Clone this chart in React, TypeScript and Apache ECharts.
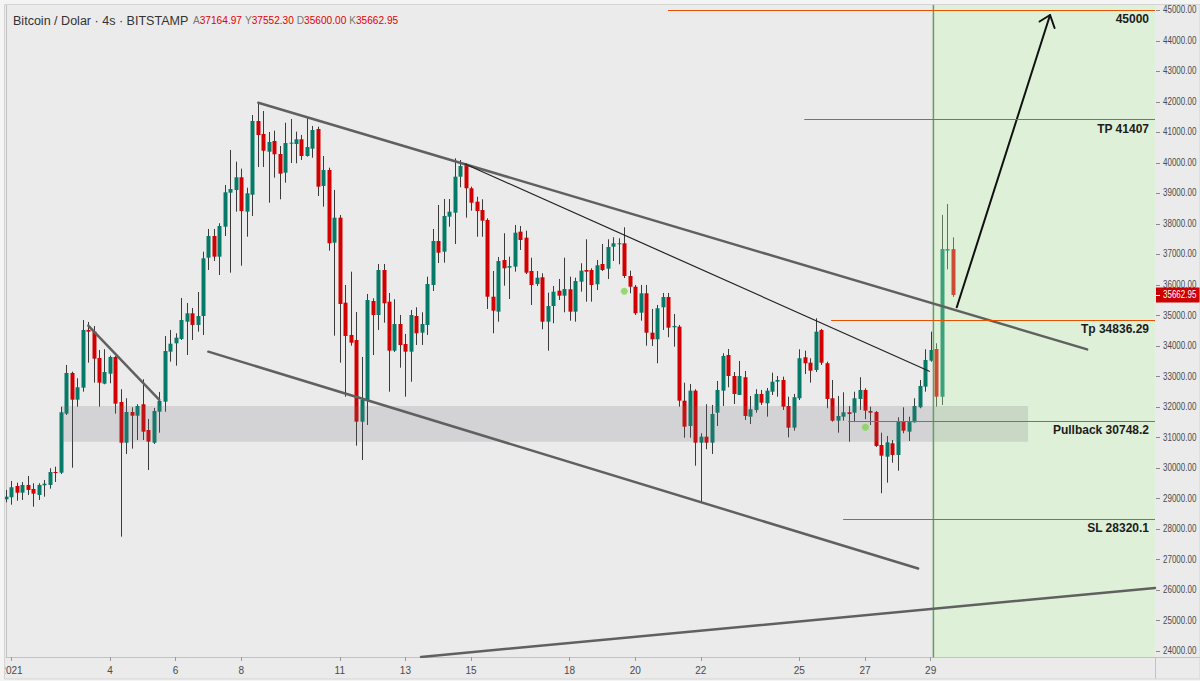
import React, { useEffect, useRef } from "react";
import * as echarts from "echarts";

// ---------- DATA ----------
const opens = [
  28968, 29034, 29404, 29184, 29437, 29306, 29109, 29427, 29437, 29862,
  29839, 31773, 33107, 32232, 32625, 34516, 34460, 33598, 32756, 33084,
  33631, 32156, 30823, 31828, 31707, 32081, 31239, 30823, 31838, 32166,
  33804, 34079, 34221, 34787, 35062, 34680, 34974, 36884, 37595, 36917,
  37900, 39014, 39103, 39519, 38392, 38948, 41363, 40938, 40357, 40708,
  40282, 39670, 40619, 40610, 40764, 40217, 40456, 41101, 39234, 39758,
  37376, 38195, 35410, 34352, 34188, 31511, 32222, 35466, 35007, 36481,
  35443, 33837, 34712, 34057, 33804, 34974, 34427, 34680, 35990, 37432,
  37081, 38228, 38359, 39539, 39922, 39158, 38719, 38447, 38120, 35606,
  35115, 36809, 36557, 36590, 37737, 37540, 36448, 36023, 36242, 34787,
  35302, 35803, 35639, 35849, 35115, 36098, 36481, 36481, 36013, 36678,
  36524, 37245, 37324, 37356, 36285, 35934, 35082, 35718, 34427, 34211,
  35259, 35597, 34604, 34625, 32199, 31370, 32527, 30823, 31019, 30823,
  31806, 32527, 33696, 33008, 32386, 32966, 31675, 31894, 32419, 32114,
  32494, 32822, 32877, 32025, 31314, 32278, 33621, 33444, 33205, 34516,
  33425, 32278, 31544, 31675, 31819, 31806, 32255, 32550, 31861, 31828,
  30747, 30364, 30803, 30420, 31511, 31183, 31491, 31983, 32658, 33510,
  33893, 32330, 37114, 37164.97,
];
const closes = [
  29053, 29362, 29184, 29437, 29273, 29152, 29437, 29480, 29862, 29830,
  31819, 33107, 32232, 32638, 34516, 34460, 33576, 32789, 33139, 33631,
  32101, 30823, 31828, 31707, 32025, 31183, 30855, 31861, 32189, 33827,
  34066, 34264, 34843, 35062, 34680, 34974, 36864, 37595, 36917, 37923,
  39027, 39135, 39519, 38414, 38994, 41363, 40905, 40390, 40675, 40272,
  39637, 40642, 40652, 40764, 40217, 40511, 41069, 39211, 39758, 37356,
  38195, 35367, 34319, 34099, 31511, 32222, 35498, 35007, 36481, 35390,
  33837, 34712, 34024, 33804, 35007, 34407, 34712, 36023, 37432, 37048,
  38251, 38392, 39539, 39889, 39158, 38686, 38414, 38097, 35606, 35148,
  36776, 36537, 36612, 37704, 37464, 36393, 35990, 36229, 34787, 35302,
  35771, 35639, 35859, 35115, 36121, 36458, 36426, 35990, 36635, 36481,
  37235, 37356, 37356, 36285, 35934, 35062, 35718, 34427, 34211, 35226,
  35597, 34591, 34647, 32199, 31347, 32527, 30823, 31019, 30823, 31763,
  32550, 33664, 33008, 32419, 33008, 31698, 31917, 32419, 32133, 32527,
  32822, 32877, 32002, 31314, 32311, 33589, 33425, 33182, 34460, 33444,
  32255, 31544, 31698, 31819, 31763, 32278, 32550, 31871, 31806, 30715,
  30397, 30836, 30420, 31511, 31216, 31511, 32025, 32681, 33533, 33860,
  32330, 37170, 37170, 35662.95,
];
const highs = [
  29273, 29568, 29512, 29535, 29732, 29493, 29492, 29601, 29984, 30036,
  32002, 33369, 33149, 32933, 34843, 34777, 34647, 33860, 33883, 33673,
  33660, 32573, 32278, 31983, 32081, 32900, 31600, 31960, 32484, 34319,
  34516, 34407, 35564, 35400, 35236, 35760, 37080, 37825, 37825, 38012,
  39267, 40413, 40030, 39801, 39178, 41560, 41966, 41691, 41003, 41046,
  40544, 41307, 41429, 41013, 40905, 41472, 41200, 41177, 40217, 39834,
  39103, 38284, 35990, 36426, 35105, 33631, 35695, 35554, 36678, 36678,
  35728, 35521, 35007, 34385, 35171, 35259, 35095, 36262, 37825, 38611,
  38808, 38808, 40140, 40085, 39977, 39211, 38883, 38798, 38175, 36448,
  36907, 37684, 36917, 37956, 37923, 37769, 36884, 36448, 36373, 35738,
  35957, 36186, 36884, 36262, 36229, 36701, 37487, 36537, 36809, 37333,
  37487, 37553, 37520, 37881, 36458, 35990, 35990, 35990, 35204, 35335,
  35728, 35728, 35040, 34680, 32789, 32746, 32573, 31131, 32081, 32058,
  32845, 33752, 33893, 33139, 33500, 33172, 32353, 32573, 32550, 32615,
  33117, 33008, 32986, 32330, 32419, 33883, 33837, 33589, 34899, 34549,
  33477, 32877, 32353, 32475, 32025, 32494, 32966, 32605, 32002, 31861,
  31150, 31042, 30911, 31655, 31983, 31675, 32278, 32877, 33883, 34460,
  34080, 38284, 38644, 37552.3,
];
const lows = [
  28870, 28791, 28922, 28945, 29109, 28725, 28945, 29053, 29316, 29535,
  29797, 31730, 30003, 32002, 32494, 33444, 32789, 32002, 32736, 32769,
  31773, 27743, 30453, 30627, 30911, 30911, 29928, 30780, 31150, 31838,
  33477, 33346, 34188, 33696, 34188, 34460, 34352, 36481, 36776, 36317,
  37595, 36393, 38392, 36622, 37572, 38251, 39856, 39856, 38686, 39506,
  38798, 39342, 39987, 39977, 40085, 40194, 40161, 38906, 38556, 37114,
  34329, 33444, 32330, 34001, 30725, 30256, 31403, 33696, 34516, 34754,
  32494, 33794, 33280, 32330, 32821, 34024, 34024, 34352, 35793, 36711,
  36721, 37900, 37333, 39191, 38195, 38424, 37572, 37572, 35204, 34407,
  34787, 35967, 35531, 36426, 37137, 36350, 35334, 35957, 34538, 33837,
  34735, 35498, 35095, 34820, 34787, 35771, 35443, 35443, 35826, 36448,
  36186, 36776, 36668, 36219, 35718, 35007, 34820, 34001, 33991, 33424,
  34516, 34277, 33969, 32002, 30986, 30986, 30069, 28880, 30607, 30453,
  31370, 32025, 32638, 32091, 32386, 31567, 31436, 31806, 32058, 31675,
  32386, 32330, 31894, 30999, 31216, 32222, 33074, 32789, 33139, 33369,
  31950, 31511, 31150, 31544, 30855, 31511, 31894, 31590, 31403, 30682,
  29165, 29512, 30167, 29905, 31131, 30878, 31478, 31950, 32494, 33477,
  32002, 32058, 36504, 35600,
];

// 4-hour slots starting 31 Dec 2020 20:00 (candles + empty space to the right)
const SLOT_COUNT = 211;
const START_UTC = Date.UTC(2020, 11, 31, 20);
const pad = (n: number) => String(n).padStart(2, "0");
const categories = Array.from({ length: SLOT_COUNT }, (_, i) => {
  const d = new Date(START_UTC + i * 4 * 3600 * 1000);
  return `${d.getUTCFullYear()}-${pad(d.getUTCMonth() + 1)}-${pad(d.getUTCDate())} ${pad(d.getUTCHours())}:00`;
});
const dayTicks = [1, 4, 6, 8, 11, 13, 15, 18, 20, 22, 25, 27, 29];
const priceTicks = [
  24000, 25000, 26000, 27000, 28000, 29000, 30000, 31000, 32000, 33000, 34000,
  35000, 36000, 37000, 38000, 39000, 40000, 41000, 42000, 43000, 44000, 45000,
];

// y-axis range
const Y_MIN = 23800;
const Y_MAX = 45164;

// drawings: [slotIndex, price]
const channelTop = [[46.12, 41963], [197.6, 33880]];
const channelBottom = [[36.98, 33805], [166.7, 26698]];
const earlyDown = [[15.04, 34656], [28.02, 32222]];
const innerDown = [[83.9, 39955], [168.76, 33162]];
const longRise = [[75.85, 23801], [210, 26062]];
const arrowShaft = [[173.77, 35259], [190.82, 44837]];
const arrowHead = [[188.9, 44624], [190.82, 44837], [191.65, 44411]];
const signalDots = [[113.0, 35783], [157.07, 31328]];

const supportBand = [10.24, 186.8, 32025, 30856];
const longZone = [169.5, 210, Y_MAX, Y_MIN];

const levelValues = [45000, 41407, 34836.29, 31520, 28320.1];
const levelStarts = [121.0, 145.9, 150.8, 153.9, 153.0];
const levelLabels = ["45000", "TP 41407", "Tp 34836.29", "Pullback 30748.2", "SL 28320.1"];

const titleText = "Bitcoin / Dolar · 4s · BITSTAMP";
const ohlcLetters = ["A", "Y", "D", "K"];

// ---------- STYLE / LAYOUT ----------
const W = 1200;
const H = 681;
const GRID = { left: 6, right: 45, top: 5, bottom: 24 };
const FRAME = 4.5;
const UP = "#067a69";
const DOWN = "#d20000";
const WICK = "#3a3a3a";
const SANS = "'Liberation Sans', Arial, sans-serif";
const AXIS_TEXT = "#4a4a4a";
const AXIS_LINE = "#c2c2c2";
const OUTER = "#f4f4f4";

export default function App() {
  const ref = useRef<HTMLDivElement>(null);

  useEffect(() => {
    if (!ref.current) return;
    const chart = echarts.init(ref.current, null, { renderer: "svg" });

    const last = opens.length - 1;
    const ohlcValues = [opens[last], highs[last], lows[last], closes[last]];
    const ohlcRich = ohlcLetters
      .map((k, i) => `{k|${k}}{v|${ohlcValues[i].toFixed(2)}}`)
      .join(" ");

    const candleData = opens.map((o, i) => [i, o, closes[i], lows[i], highs[i]]);

    const isTickSlot = (idx: number) => {
      const v = categories[idx];
      if (!v) return false;
      const month = Number(v.slice(5, 7));
      const day = Number(v.slice(8, 10));
      const hour = v.slice(11, 13);
      return v.startsWith("2021") && month === 1 && hour === "00" && dayTicks.includes(day);
    };

    const lineSeries = (data: number[][], color: string, width: number, z = 6) => ({
      type: "line",
      xAxisIndex: 1,
      yAxisIndex: 0,
      data,
      symbol: "none",
      silent: true,
      z,
      lineStyle: { color, width, cap: "round" },
    });

    const rectSeries = (range: number[], fill: string, z: number) => ({
      type: "custom",
      xAxisIndex: 1,
      yAxisIndex: 0,
      silent: true,
      z,
      data: [range],
      encode: { x: [0, 1], y: [2, 3] },
      renderItem: (_p: any, api: any) => {
        const a = api.coord([api.value(0), api.value(2)]);
        const b = api.coord([api.value(1), api.value(3)]);
        return {
          type: "rect",
          shape: { x: a[0], y: a[1], width: b[0] - a[0], height: b[1] - a[1] },
          style: { fill },
        };
      },
    });

    const mask = (x: number, y: number, w: number, h: number) => ({
      type: "rect",
      z: 200,
      silent: true,
      shape: { x, y, width: w, height: h },
      style: { fill: OUTER },
    });

    const option: any = {
      animation: false,
      backgroundColor: "#ebebeb",
      textStyle: { fontFamily: SANS },
      grid: { ...GRID, containLabel: false, outerBoundsMode: "none" },
      xAxis: [
        {
          type: "category",
          data: categories,
          boundaryGap: false,
          axisLine: { show: true, lineStyle: { color: AXIS_LINE, width: 1 } },
          axisTick: {
            show: true,
            interval: (idx: number) => isTickSlot(idx),
            length: 4,
            lineStyle: { color: "#9a9a9a" },
          },
          axisLabel: {
            interval: (idx: number) => isTickSlot(idx),
            formatter: (v: string) => {
              const day = Number(v.slice(8, 10));
              return day === 1 ? "2021" : String(day);
            },
            color: AXIS_TEXT,
            fontSize: 10,
            margin: 8,
          },
          splitLine: { show: false },
        },
        { type: "value", min: 0, max: SLOT_COUNT - 1, show: false },
      ],
      yAxis: {
        type: "value",
        position: "right",
        min: Y_MIN,
        max: Y_MAX,
        axisLine: { show: true, lineStyle: { color: AXIS_LINE, width: 1 } },
        axisTick: { show: false },
        axisLabel: { show: false },
        splitLine: { show: false },
      },
      graphic: [
        {
          type: "text",
          x: 13,
          y: 20,
          scaleX: 0.93,
          z: 100,
          style: {
            text: titleText,
            fontSize: 13.5,
            fontFamily: SANS,
            fill: "#333333",
            verticalAlign: "middle",
          },
        },
        {
          type: "text",
          x: 193,
          y: 20,
          scaleX: 0.88,
          z: 100,
          style: {
            text: ohlcRich,
            verticalAlign: "middle",
            rich: {
              k: { fontSize: 11.5, fill: "#777777", fontFamily: SANS },
              v: { fontSize: 11.5, fill: "#e00000", fontFamily: SANS },
            },
          },
        },
        {
          type: "line",
          z: 100,
          silent: true,
          shape: { x1: W - GRID.right, y1: H - GRID.bottom + 0.5, x2: W, y2: H - GRID.bottom + 0.5 },
          style: { stroke: AXIS_LINE, lineWidth: 1 },
        },
        {
          type: "line",
          z: 100,
          silent: true,
          shape: { x1: W - GRID.right + 0.5, y1: H - GRID.bottom, x2: W - GRID.right + 0.5, y2: H },
          style: { stroke: AXIS_LINE, lineWidth: 1 },
        },
        // outer pane frame
        mask(0, 0, W, FRAME),
        mask(0, 0, FRAME, H),
        mask(0, H - 2, W, 2),
        {
          type: "rect",
          z: 201,
          silent: true,
          shape: { x: FRAME, y: FRAME, width: W - FRAME, height: H - 2 - FRAME },
          style: { fill: "none", stroke: "#d4d4d4", lineWidth: 1 },
        },
      ],
      series: [
        {
          type: "custom",
          name: "BTC",
          xAxisIndex: 0,
          yAxisIndex: 0,
          z: 2,
          silent: true,
          data: candleData,
          encode: { x: 0, y: [1, 2, 3, 4] },
          renderItem: (_p: any, api: any) => {
            const i = api.value(0);
            const o = api.value(1);
            const c = api.value(2);
            const l = api.value(3);
            const h = api.value(4);
            const pO = api.coord([i, o]);
            const pC = api.coord([i, c]);
            const pL = api.coord([i, l]);
            const pH = api.coord([i, h]);
            const up = c >= o;
            const x = Math.round(pO[0]);
            const top = Math.min(pO[1], pC[1]);
            const bh = Math.max(1, Math.abs(pO[1] - pC[1]));
            return {
              type: "group",
              children: [
                {
                  type: "line",
                  shape: { x1: x + 0.5, y1: pH[1], x2: x + 0.5, y2: pL[1] },
                  style: { stroke: WICK, lineWidth: 1 },
                },
                {
                  type: "rect",
                  shape: { x: x - 1.5, y: top, width: 4, height: bh },
                  style: { fill: up ? UP : DOWN },
                },
              ],
            };
          },
        },
        rectSeries(longZone, "rgba(193,252,169,0.30)", 3),
        rectSeries(supportBand, "rgba(110,110,120,0.19)", 4),
        lineSeries([[longZone[0], Y_MIN], [longZone[0], Y_MAX]], "#5f9f62", 1.5, 5),
        lineSeries(channelTop, "#606060", 2.5),
        lineSeries(channelBottom, "#606060", 2.5),
        lineSeries(earlyDown, "#606060", 2.5),
        lineSeries(longRise, "#606060", 2.5),
        lineSeries(innerDown, "#222222", 1.2),
        lineSeries(arrowShaft, "#111111", 2),
        lineSeries(arrowHead, "#111111", 2),
        {
          type: "scatter",
          xAxisIndex: 1,
          yAxisIndex: 0,
          data: signalDots,
          symbol: "circle",
          symbolSize: 7,
          silent: true,
          z: 6,
          itemStyle: { color: "#7fd650" },
        },
        // price scale labels (narrow, like the original terminal font)
        {
          type: "custom",
          xAxisIndex: 1,
          yAxisIndex: 0,
          silent: true,
          z: 8,
          data: priceTicks.map((v) => [0, v]),
          encode: { x: 0, y: 1 },
          renderItem: (params: any, api: any) => {
            const v = api.value(1);
            const p = api.coord([0, v]);
            const right = params.coordSys.x + params.coordSys.width;
            const y = Math.round(p[1]) + 0.5;
            return {
              type: "group",
              children: [
                {
                  type: "line",
                  shape: { x1: right + 1, y1: y, x2: right + 5, y2: y },
                  style: { stroke: "#8a8a8a", lineWidth: 1 },
                },
                {
                  type: "text",
                  x: right + 8,
                  y: p[1],
                  scaleX: 0.8,
                  style: {
                    text: v.toFixed(2),
                    fill: AXIS_TEXT,
                    fontSize: 10,
                    fontFamily: SANS,
                    align: "left",
                    verticalAlign: "middle",
                  },
                },
              ],
            };
          },
        },
        // last price tag
        {
          type: "custom",
          xAxisIndex: 1,
          yAxisIndex: 0,
          silent: true,
          z: 9,
          data: [[0, closes[last]]],
          encode: { x: 0, y: 1 },
          renderItem: (params: any, api: any) => {
            const v = api.value(1);
            const p = api.coord([0, v]);
            const right = params.coordSys.x + params.coordSys.width;
            return {
              type: "group",
              children: [
                {
                  type: "rect",
                  shape: { x: right + 1, y: p[1] - 7.5, width: W - right - 1, height: 15 },
                  style: { fill: "#cc0000" },
                },
                {
                  type: "line",
                  shape: { x1: right + 1, y1: Math.round(p[1]) + 0.5, x2: right + 5, y2: Math.round(p[1]) + 0.5 },
                  style: { stroke: "#ffffff", lineWidth: 1 },
                },
                {
                  type: "text",
                  x: right + 8,
                  y: p[1],
                  scaleX: 0.8,
                  style: {
                    text: v.toFixed(2),
                    fill: "#ffffff",
                    fontSize: 10,
                    fontFamily: SANS,
                    align: "left",
                    verticalAlign: "middle",
                  },
                },
              ],
            };
          },
        },
        {
          type: "line",
          xAxisIndex: 1,
          yAxisIndex: 0,
          data: [],
          silent: true,
          z: 7,
          markLine: {
            silent: true,
            z: 7,
            symbol: ["none", "none"],
            animation: false,
            lineStyle: { color: "#e65100", width: 1, type: "solid" },
            label: {
              show: true,
              position: "insideEndBottom",
              distance: [6, 3],
              fontSize: 12,
              fontWeight: "bold",
              color: "#1c1c1c",
              fontFamily: SANS,
            },
            data: levelValues.map((v, i) => [
              { coord: [levelStarts[i], v], label: { formatter: levelLabels[i] } },
              { coord: [SLOT_COUNT - 1, v] },
            ]),
          },
        },
      ],
    };

    chart.setOption(option);
    return () => chart.dispose();
  }, []);

  return (
    <div
      ref={ref}
      style={{ position: "fixed", left: 0, top: 0, width: W, height: H }}
    />
  );
}
